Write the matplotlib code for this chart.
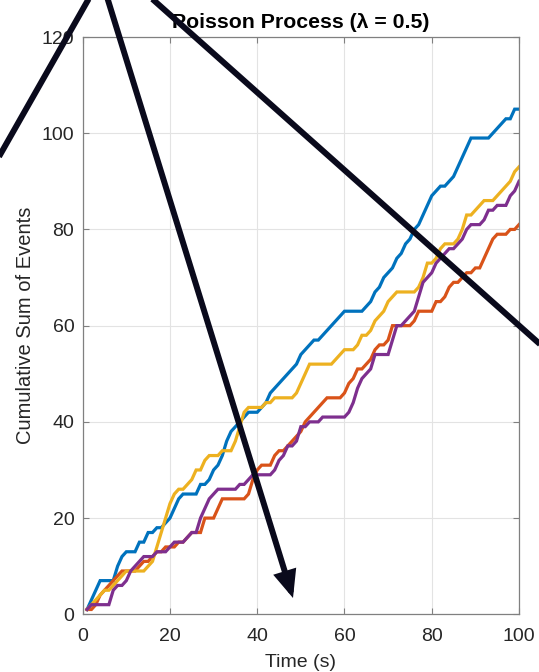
import numpy as np
import matplotlib
matplotlib.use("Agg")
import matplotlib.pyplot as plt
from matplotlib.lines import Line2D
from matplotlib.patches import FancyArrowPatch

plt.rcParams['font.family'] = ['Liberation Sans', 'DejaVu Sans']

# Time axis (seconds)
time_s = np.arange(1, 101)

# Cumulative event counts for four simulated Poisson runs
run_blue = [1, 3, 5, 7, 7, 7, 7, 10, 12, 13, 13, 13, 15, 15, 17, 17, 18, 18, 19, 20,
            22, 24, 25, 25, 25, 25, 27, 27, 28, 30, 31, 33, 36, 38, 39, 40, 41, 42, 42, 42,
            43, 44, 46, 47, 48, 49, 50, 51, 52, 54, 55, 56, 57, 57, 58, 59, 60, 61, 62, 63,
            63, 63, 63, 63, 64, 65, 67, 68, 70, 71, 72, 74, 75, 77, 78, 80, 81, 83, 85, 87,
            88, 89, 89, 90, 91, 93, 95, 97, 99, 99, 99, 99, 99, 100, 101, 102, 103, 103, 105, 105]
run_orange = [1, 1, 2, 4, 5, 6, 7, 8, 9, 9, 9, 9, 10, 11, 11, 12, 13, 13, 14, 14,
              14, 15, 15, 16, 17, 17, 17, 20, 20, 20, 22, 24, 24, 24, 24, 24, 24, 25, 28, 30,
              31, 31, 31, 33, 34, 34, 35, 36, 37, 38, 40, 41, 42, 43, 44, 45, 45, 45, 45, 46,
              48, 49, 51, 51, 52, 53, 55, 56, 56, 57, 60, 60, 60, 60, 60, 61, 63, 63, 63, 63,
              65, 65, 66, 68, 69, 69, 70, 71, 71, 72, 72, 74, 76, 78, 79, 79, 79, 80, 80, 81]
run_yellow = [1, 2, 3, 4, 5, 5, 6, 7, 8, 9, 9, 9, 9, 9, 10, 11, 14, 17, 20, 23,
              25, 26, 26, 27, 28, 30, 30, 32, 33, 33, 33, 34, 34, 34, 36, 39, 42, 43, 43, 43,
              43, 44, 44, 45, 45, 45, 45, 45, 46, 48, 50, 52, 52, 52, 52, 52, 52, 53, 54, 55,
              55, 55, 56, 58, 58, 59, 61, 62, 63, 65, 66, 67, 67, 67, 67, 67, 68, 70, 73, 73,
              74, 76, 77, 77, 77, 78, 80, 83, 83, 84, 85, 86, 86, 86, 87, 88, 89, 90, 92, 93]
run_purple = [1, 2, 2, 2, 2, 2, 5, 6, 6, 7, 9, 10, 11, 12, 12, 12, 13, 13, 13, 14,
              15, 15, 15, 16, 17, 17, 20, 22, 24, 25, 26, 26, 26, 26, 26, 27, 27, 28, 29, 29,
              29, 29, 29, 30, 32, 33, 35, 35, 36, 39, 39, 40, 40, 40, 41, 41, 41, 41, 41, 41,
              42, 44, 47, 49, 50, 51, 54, 54, 54, 54, 57, 60, 60, 61, 62, 63, 66, 69, 70, 71,
              73, 74, 75, 76, 76, 77, 78, 80, 81, 81, 81, 82, 84, 84, 85, 85, 85, 87, 88, 90]

runs = [run_blue, run_orange, run_yellow, run_purple]
run_colors = ['#0072BD', '#D95319', '#EDB120', '#7E2F8E']

x_ticks = [0, 20, 40, 60, 80, 100]
y_ticks = [0, 20, 40, 60, 80, 100, 120]

W, H = 539, 672
fig = plt.figure(figsize=(W / 100, H / 100), dpi=100)
ax = fig.add_axes([82.7 / W, (H - 614.3) / H, (519.0 - 82.7) / W, (614.3 - 37.0) / H])

for vals, col in zip(runs, run_colors):
    ax.plot(time_s, vals, color=col, lw=2.3, solid_joinstyle='miter')

ax.set_xlim(0, 100)
ax.set_ylim(0, 120)
ax.set_xticks(x_ticks)
ax.set_yticks(y_ticks)
ax.grid(True, color='#e3e3e3', lw=0.8)
ax.set_axisbelow(True)
for sp in ax.spines.values():
    sp.set_color('#808080')
    sp.set_linewidth(0.9)
ax.tick_params(direction='in', length=4, width=0.8, color='#808080',
               top=True, right=True, labelsize=14, labelcolor='#262626')
ax.tick_params(axis='x', pad=10)
ax.tick_params(axis='y', pad=6)

ax.set_title('Poisson Process (\u03bb = 0.5)', fontsize=15.3, fontweight='bold',
             color='black', pad=6.5)
ax.set_xlabel('Time (s)', fontsize=14, color='#262626', labelpad=6)
ax.set_ylabel('Cumulative Sum of Events', fontsize=14.5, color='#262626', labelpad=5)


def fpos(px, py):
    """Pixel position (y measured from the top) to figure fraction."""
    return (px / W, 1 - py / H)


ink = '#0a0a1c'
lw_ann = 4.3

# Three strokes fanning out from a point above the plot
for (p0, p1) in [((-12, 176), (96, -14)), ((140, -12), (560, 362))]:
    a, b = fpos(*p0), fpos(*p1)
    fig.add_artist(Line2D([a[0], b[0]], [a[1], b[1]], transform=fig.transFigure,
                          color=ink, lw=lw_ann, solid_capstyle='butt'))

arrow = FancyArrowPatch(fpos(103, -16), fpos(293, 598), transform=fig.transFigure,
                        arrowstyle='-|>,head_length=0.42,head_width=0.18',
                        mutation_scale=30, color=ink, lw=lw_ann,
                        shrinkA=0, shrinkB=0, joinstyle='miter')
fig.add_artist(arrow)

fig.savefig('out.png', dpi=100)
